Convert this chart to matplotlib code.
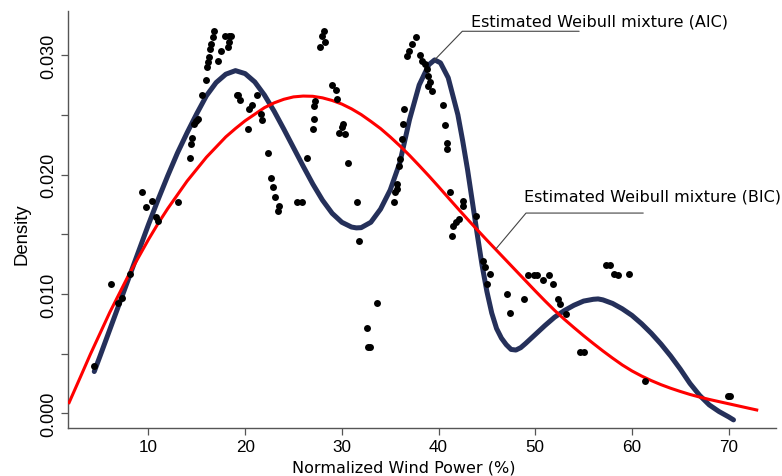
import numpy as np
import matplotlib
matplotlib.use("Agg")
import matplotlib.pyplot as plt

# observed normalized wind power vs. empirical density
wind_x = [4.41, 6.13, 6.89, 7.24, 8.10, 9.37, 9.79, 10.34, 10.76, 11.03,
          13.03, 14.31, 14.41, 14.48, 14.75, 14.93, 15.10, 15.52, 15.93, 16.10,
          16.14, 16.27, 16.38, 16.48, 16.65, 16.74, 17.23, 17.51, 17.93, 18.29,
          18.55, 18.34, 18.21, 19.30, 19.48, 19.12, 20.34, 20.44, 20.69, 21.21,
          21.62, 21.72, 22.41, 22.65, 22.92, 23.10, 23.38, 23.54, 25.34, 25.86,
          26.44, 27.06, 27.13, 27.13, 27.24, 27.75, 28.27, 27.93, 28.17, 28.96,
          29.41, 29.54, 30.10, 29.75, 30.34, 30.03, 30.62, 31.55, 31.82, 32.59,
          32.75, 32.87, 33.62, 35.41, 35.51, 35.69, 35.69, 35.96, 36.03, 36.21,
          36.31, 36.44, 36.72, 36.99, 37.24, 37.69, 38.10, 38.27, 38.62, 38.79,
          38.96, 39.13, 38.96, 39.31, 40.51, 40.69, 40.86, 40.92, 41.20, 41.48,
          41.44, 41.82, 42.16, 42.52, 42.58, 43.89, 44.58, 44.82, 45.27, 45.06,
          47.07, 47.41, 48.79, 49.30, 49.82, 50.17, 50.85, 51.47, 51.82, 52.40,
          52.58, 53.20, 54.58, 55.06, 57.34, 57.75, 58.16, 58.51, 59.65, 61.30,
          69.89, 70.09]
wind_y = [0.00399, 0.01083, 0.00924, 0.00966, 0.01167, 0.01853, 0.01732, 0.01776, 0.01642, 0.01613,
          0.01770, 0.02136, 0.02255, 0.02302, 0.02423, 0.02444, 0.02465, 0.02670, 0.02789, 0.02898,
          0.02940, 0.02982, 0.03051, 0.03093, 0.03149, 0.03202, 0.02948, 0.03032, 0.03162, 0.03162,
          0.03157, 0.03107, 0.03065, 0.02670, 0.02624, 0.02666, 0.02381, 0.02549, 0.02580, 0.02662,
          0.02507, 0.02459, 0.02180, 0.01971, 0.01893, 0.01809, 0.01697, 0.01734, 0.01772, 0.01772,
          0.02138, 0.02381, 0.02465, 0.02576, 0.02618, 0.03065, 0.03112, 0.03157, 0.03199, 0.02750,
          0.02710, 0.02632, 0.02423, 0.02345, 0.02339, 0.02400, 0.02096, 0.01772, 0.01446, 0.00714,
          0.00553, 0.00553, 0.00921, 0.01772, 0.01851, 0.01920, 0.01879, 0.02074, 0.02130, 0.02297,
          0.02423, 0.02549, 0.02990, 0.03037, 0.03093, 0.03154, 0.03001, 0.02953, 0.02925, 0.02884,
          0.02827, 0.02772, 0.02744, 0.02702, 0.02582, 0.02415, 0.02264, 0.02214, 0.01856, 0.01566,
          0.01487, 0.01600, 0.01627, 0.01781, 0.01739, 0.01655, 0.01278, 0.01223, 0.01167, 0.01083,
          0.00999, 0.00838, 0.00957, 0.01162, 0.01162, 0.01162, 0.01116, 0.01162, 0.01083, 0.00957,
          0.00915, 0.00832, 0.00511, 0.00511, 0.01242, 0.01242, 0.01167, 0.01158, 0.01167, 0.00268,
          0.00147, 0.00147]

# fitted Weibull mixture selected by AIC
aic_x = [4.4, 5.0, 6.0, 7.0, 8.0, 9.0, 10.0, 11.0, 12.0, 13.0,
         14.0, 15.0, 16.0, 17.0, 18.0, 19.0, 20.0, 21.0, 22.0, 23.0,
         24.0, 25.0, 26.0, 27.0, 28.0, 29.0, 30.0, 31.0, 31.5, 32.0,
         33.0, 34.0, 35.0, 36.0, 37.0, 38.0, 39.0, 39.6, 40.2, 41.0,
         42.0, 42.5, 43.0, 43.5, 44.0, 44.5, 45.0, 45.5, 46.0, 46.5,
         47.0, 47.5, 48.0, 48.5, 49.0, 50.0, 51.0, 52.0, 53.0, 54.0,
         55.0, 56.0, 56.5, 57.0, 58.0, 59.0, 60.0, 61.0, 62.0, 63.0,
         64.0, 65.0, 66.0, 67.0, 68.0, 69.0, 70.0, 70.5]
aic_y = [0.0035, 0.0048, 0.0070, 0.0092, 0.0114, 0.0136, 0.0158, 0.0179, 0.0199, 0.0218,
         0.0235, 0.0251, 0.0266, 0.0277, 0.0284, 0.0287, 0.02845, 0.02775, 0.02665, 0.0253,
         0.0238, 0.02225, 0.0207, 0.0192, 0.01785, 0.01675, 0.0160, 0.0156, 0.01553, 0.01555,
         0.0160, 0.0171, 0.0187, 0.0210, 0.0246, 0.0275, 0.0292, 0.0296, 0.02935, 0.0281,
         0.0250, 0.0228, 0.0204, 0.0177, 0.0150, 0.0124, 0.0102, 0.0084, 0.0071, 0.0063,
         0.00575, 0.00535, 0.0053, 0.0055, 0.00585, 0.0066, 0.00735, 0.00805, 0.0086, 0.00905,
         0.0094, 0.00955, 0.00958, 0.0095, 0.0092, 0.00875, 0.0082, 0.0075, 0.0067, 0.0058,
         0.0048, 0.0037, 0.0025, 0.0015, 0.0007, 0.00015, -0.0003, -0.00055]

# fitted Weibull mixture selected by BIC
bic_x = [1.8, 3.0, 4.0, 5.0, 6.0, 7.0, 8.0, 9.0, 10.0, 11.0,
         12.0, 13.0, 14.0, 15.0, 16.0, 17.0, 18.0, 19.0, 20.0, 21.0,
         22.0, 23.0, 24.0, 25.0, 26.0, 27.0, 28.0, 29.0, 30.0, 31.0,
         32.0, 33.0, 34.0, 35.0, 36.0, 37.0, 38.0, 39.0, 40.0, 41.0,
         42.0, 43.0, 44.0, 45.0, 46.0, 47.0, 48.0, 49.0, 50.0, 51.0,
         52.0, 53.0, 54.0, 55.0, 56.0, 57.0, 58.0, 59.0, 60.0, 61.0,
         62.0, 63.0, 64.0, 65.0, 66.0, 67.0, 68.0, 69.0, 70.0, 71.0,
         72.0, 72.9]
bic_y = [0.0009, 0.0031, 0.00495, 0.0067, 0.00845, 0.01005, 0.01165, 0.0131, 0.01455, 0.0159,
         0.01715, 0.0183, 0.01945, 0.02045, 0.02145, 0.0223, 0.02315, 0.02385, 0.0245, 0.02505,
         0.0256, 0.0260, 0.0263, 0.0265, 0.02657, 0.02655, 0.02642, 0.0262, 0.0259, 0.0255,
         0.02502, 0.02445, 0.02385, 0.02315, 0.0224, 0.0216, 0.02075, 0.01988, 0.01898, 0.01806,
         0.01715, 0.01625, 0.01537, 0.0145, 0.01365, 0.0128, 0.01195, 0.0111, 0.01025, 0.00942,
         0.00862, 0.00788, 0.00718, 0.0065, 0.00585, 0.00522, 0.00462, 0.00405, 0.00355, 0.00312,
         0.00274, 0.0024, 0.0021, 0.00183, 0.00158, 0.00136, 0.00116, 0.00098, 0.0008, 0.00062,
         0.00044, 0.00028]

x_ticks = [10, 20, 30, 40, 50, 60, 70]
y_ticks = [0.000, 0.010, 0.020, 0.030]
y_minor = [0.005, 0.015, 0.025]

axis_col = "#555555"

fig = plt.figure(figsize=(7.82, 4.77), dpi=100)
ax = fig.add_axes([0.0866, 0.1006, 0.9058, 0.8736])

ax.plot(aic_x, aic_y, color="#25305a", lw=3.6, solid_capstyle="round",
        solid_joinstyle="round", zorder=2)
ax.plot(bic_x, bic_y, color="#ff0000", lw=2.2, solid_joinstyle="round", zorder=3)
ax.scatter(wind_x, wind_y, s=25, color="black", linewidths=0, zorder=4)

ax.set_xlim(1.655, 74.9)
ax.set_ylim(-0.001231, 0.033668)

for side in ["top", "right"]:
    ax.spines[side].set_visible(False)
for side in ["left", "bottom"]:
    ax.spines[side].set_color(axis_col)
    ax.spines[side].set_linewidth(1.0)

ax.set_xticks(x_ticks)
ax.set_xticklabels([str(v) for v in x_ticks], fontsize=12.3, family="Liberation Sans")
ax.set_yticks(y_ticks)
ax.set_yticklabels([f"{v:.3f}" for v in y_ticks], fontsize=13, family="Liberation Sans",
                   rotation=90, va="center")
ax.set_yticks(y_minor, minor=True)
ax.tick_params(which="both", length=4.7, width=0.9, color=axis_col, direction="out")
ax.tick_params(axis="x", pad=3)
ax.tick_params(axis="y", pad=2.5)

# leader for the AIC curve, anchored at its second peak
i_pk = int(np.argmax([y if x > 30 else 0 for x, y in zip(aic_x, aic_y)]))
pk = (aic_x[i_pk], aic_y[i_pk])
ax.annotate("", xy=pk, xytext=(104, 20.6), textcoords="offset points",
            arrowprops=dict(arrowstyle="-", color="#444444", lw=0.8, shrinkA=0, shrinkB=0,
                            connectionstyle="angle,angleA=0,angleB=46"))
ax.annotate("Estimated Weibull mixture (AIC)", xy=pk, xytext=(26.3, 25.1),
            textcoords="offset points", ha="left", va="baseline",
            fontsize=11.5, family="DejaVu Sans")

# leader for the BIC curve
bx = 45.9
bp = (bx, float(np.interp(bx, bic_x, bic_y)))
ax.annotate("", xy=bp, xytext=(106.3, 26.1), textcoords="offset points",
            arrowprops=dict(arrowstyle="-", color="#444444", lw=0.8, shrinkA=0, shrinkB=0,
                            connectionstyle="angle,angleA=0,angleB=50"))
ax.annotate("Estimated Weibull mixture (BIC)", xy=bp, xytext=(20.6, 35.5),
            textcoords="offset points", ha="left", va="baseline",
            fontsize=11.5, family="DejaVu Sans")

fig.text(403.3 / 782, 4 / 477, "Normalized Wind Power (%)", ha="center", va="baseline",
         fontsize=11.5, family="DejaVu Sans")
fig.text(21.9 / 782, 1 - 234.2 / 477, "Density", rotation=90, ha="center", va="center",
         fontsize=13.3, family="Liberation Sans")

fig.savefig("out.png", dpi=100)
